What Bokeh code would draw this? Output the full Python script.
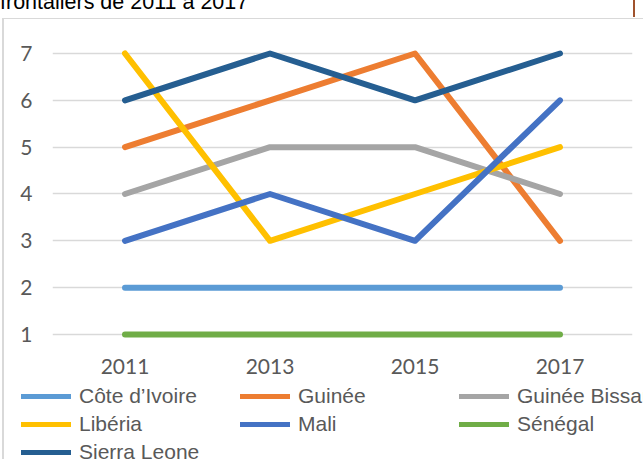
from bokeh.plotting import figure
from bokeh.models import Range1d, FixedTicker, Legend, LegendItem, Div
from bokeh.layouts import column
from bokeh.embed import file_html
from bokeh.resources import INLINE

years = [2011, 2013, 2015, 2017]
y_ticks = [1, 2, 3, 4, 5, 6, 7]
title_text = "frontaliers de 2011 à 2017"

cote_divoire = [2, 2, 2, 2]
guinee = [5, 6, 7, 3]
guinee_bissau = [4, 5, 5, 4]
liberia = [7, 3, 4, 5]
mali = [3, 4, 3, 6]
senegal = [1, 1, 1, 1]
sierra_leone = [6, 7, 6, 7]

series = [
    ("Côte d’Ivoire", cote_divoire, "#5B9BD5"),
    ("Guinée", guinee, "#ED7D31"),
    ("Guinée Bissau", guinee_bissau, "#A5A5A5"),
    ("Libéria", liberia, "#FFC000"),
    ("Mali", mali, "#4472C4"),
    ("Sénégal", senegal, "#70AD47"),
    ("Sierra Leone", sierra_leone, "#255E91"),
]

W = 643
head = Div(
    text=(
        '<div style="position:relative;width:643px;height:18px;">'
        '<div style="position:absolute;left:0px;top:-8px;white-space:nowrap;'
        "font-family:'Liberation Sans';font-size:21.5px;line-height:21.5px;color:#000;\">"
        + title_text +
        '</div>'
        '<div style="position:absolute;left:633px;top:0px;width:2px;height:17px;background:#A0522D;"></div>'
        '<div style="position:absolute;left:2px;top:17.5px;width:641px;height:1.5px;background:#D9D9D9;"></div>'
        '<div style="position:absolute;left:2px;top:17.5px;width:1.5px;height:442px;background:#D9D9D9;"></div>'
        '</div>'
    ),
    width=W, height=18, margin=(0, 0, 0, 0),
    styles={"overflow": "visible", "z-index": "5"},
)

p = figure(frame_width=580, frame_height=327,
           x_range=Range1d(2010, 2018),
           y_range=Range1d(0.765, 7.747),
           min_border_left=52, min_border_right=11,
           min_border_top=0, min_border_bottom=37,
           output_backend="svg", toolbar_location=None)
p.outline_line_color = None
p.background_fill_alpha = 0
p.border_fill_alpha = 0

for name, vals, color in series:
    p.line(years, vals, line_color=color, line_width=6,
           line_cap="round", line_join="round")

p.xaxis.ticker = FixedTicker(ticks=years)
p.yaxis.ticker = FixedTicker(ticks=y_ticks)
for ax in (p.xaxis, p.yaxis):
    ax.axis_line_color = None
    ax.major_tick_line_color = None
    ax.minor_tick_line_color = None
    ax.major_tick_out = 0
    ax.major_tick_in = 0
    ax.major_label_text_font = "Lato"
    ax.major_label_text_font_size = "21px"
    ax.major_label_text_color = "#595959"
p.xaxis.major_label_standoff = 13
p.yaxis.major_label_standoff = 20

p.xgrid.grid_line_color = None
p.ygrid.grid_line_color = "#D9D9D9"
p.ygrid.grid_line_width = 1.4

# legend panel: same series, legend only (data lies outside this panel's view)
pl = figure(frame_width=W, frame_height=77, x_range=Range1d(0, 1), y_range=Range1d(0, 1),
            min_border=0, x_axis_type=None, y_axis_type=None,
            output_backend="svg", toolbar_location=None)
pl.outline_line_color = None
pl.background_fill_alpha = 0
pl.border_fill_alpha = 0
items = []
for name, vals, color in series:
    r = pl.line(years, vals, line_color=color, line_width=5,
                line_cap="round", line_join="round")
    items.append(LegendItem(label=name, renderers=[r]))

for fig in (p, pl):
    if "frame_align" in fig.properties():
        fig.frame_align = False

legend = Legend(items=items, location=(21, -7), orientation="horizontal",
                ncols=3)
legend.label_text_font = "Liberation Sans"
legend.label_text_font_size = "21px"
legend.label_text_color = "#595959"
legend.glyph_width = 50
legend.glyph_height = 28
legend.label_height = 28
legend.label_width = 161
legend.label_standoff = 8
legend.spacing = 0
legend.padding = 0
legend.margin = 0
legend.border_line_color = None
legend.background_fill_alpha = 0
pl.add_layout(legend, "center")

layout = column(head, p, pl, spacing=0)

open("out.html", "w").write(file_html(layout, INLINE))
